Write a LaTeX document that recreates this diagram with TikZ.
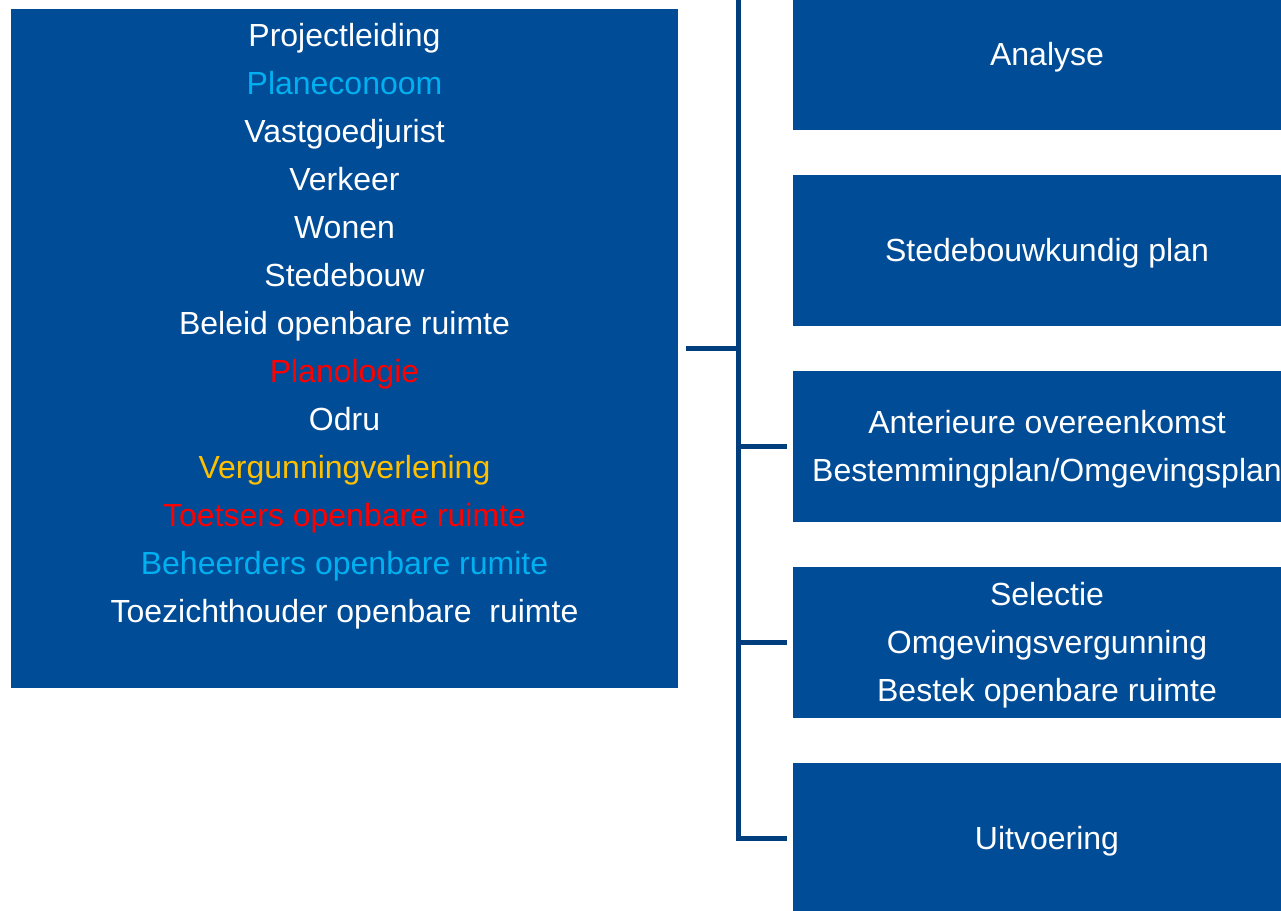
\documentclass[tikz,border=0pt]{standalone}
\usepackage{fontspec}
\setmainfont{Liberation Sans}
\definecolor{boxblue}{RGB}{0,76,151}
\definecolor{linkblue}{RGB}{0,62,126}
\definecolor{ltblue}{RGB}{0,176,240}
\definecolor{ylw}{RGB}{255,192,0}
\definecolor{rd}{RGB}{255,0,0}
\begin{document}
\begin{tikzpicture}[x=0.75pt,y=-0.75pt,
  boxtext/.style={align=center,text=white,inner sep=0pt,font=\fontsize{24pt}{36pt}\selectfont},
  bluebox/.style={rectangle,fill=boxblue,draw=none,inner sep=0pt},
  rbox/.style={bluebox,minimum width=508*0.75pt,minimum height=151*0.75pt},
  rtext/.style={boxtext,yshift=-2.4pt},
  conn/.style={draw=linkblue,line width=3.75pt}]
\useasboundingbox (0,0) rectangle (1281,910);
\node[bluebox,minimum width=667*0.75pt,minimum height=679*0.75pt] (lbox) at (344.5,348.5) {};
\node[boxtext] (ltext) at (344.5,326) {%
Projectleiding\\
\textcolor{ltblue}{Planeconoom}\\
Vastgoedjurist\\
Verkeer\\
Wonen\\
Stedebouw\\
Beleid openbare ruimte\\
\textcolor{rd}{Planologie}\\
Odru\\
\textcolor{ylw}{Vergunningverlening}\\
\textcolor{rd}{Toetsers openbare ruimte}\\
\textcolor{ltblue}{Beheerders openbare rumite}\\
Toezichthouder openbare\ \ ruimte};
\node[rbox] (b1) at (1047,54.5) {};
\node[rbox] (b2) at (1047,250.5) {};
\node[rbox] (b3) at (1047,446.5) {};
\node[rbox] (b4) at (1047,642.5) {};
\node[rbox] (b5) at (1047,838.5) {};
\node[rtext] (t1) at (b1.center) {Analyse};
\node[rtext] (t2) at (b2.center) {Stedebouwkundig plan};
\node[rtext] (t3) at (b3.center) {Anterieure overeenkomst\\Bestemmingplan/Omgevingsplan};
\node[rtext] (t4) at (b4.center) {Selectie\\Omgevingsvergunning\\Bestek openbare ruimte};
\node[rtext] (t5) at (b5.center) {Uitvoering};
\coordinate (top) at (738,-5);
\coordinate (spinebot) at (738,838.5);
\draw[conn] ([xshift=6pt]lbox.east) -- (top |- lbox.east);
\draw[conn,line join=miter] (top) -- (spinebot) -- ([xshift=-4.5pt]b5.west);
\draw[conn] (top |- b3.west) -- ([xshift=-4.5pt]b3.west);
\draw[conn] (top |- b4.west) -- ([xshift=-4.5pt]b4.west);
\end{tikzpicture}
\end{document}
